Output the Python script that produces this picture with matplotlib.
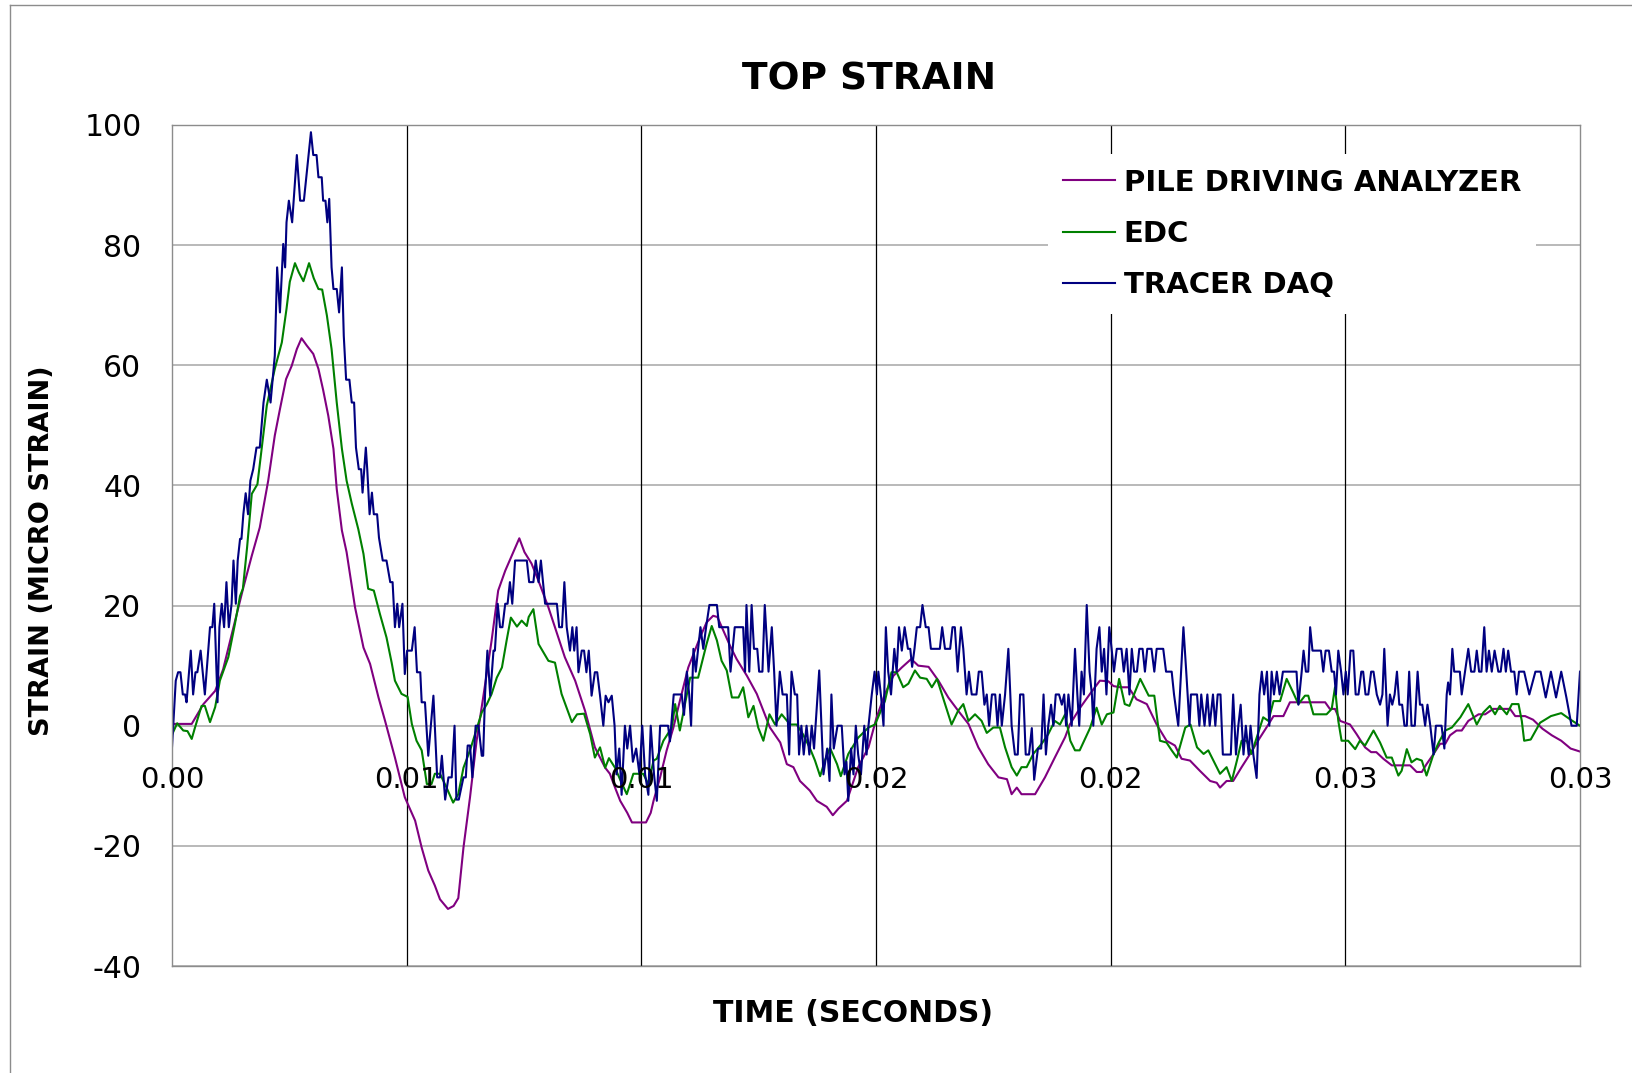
import numpy as np
import matplotlib
matplotlib.use("Agg")
import matplotlib.pyplot as plt
from matplotlib.lines import Line2D

plt.rcParams['axes.unicode_minus'] = False
plt.rcParams['font.family'] = ['DejaVu Sans']

# ---- data (time in ms, strain in micro strain) ----
pda_t = [0.00, 0.42, 0.67, 0.92, 1.09, 1.31, 1.52, 1.70, 1.87, 2.05, 2.19, 2.30, 2.43, 2.55, 2.66,
         2.76, 2.87, 3.01, 3.12, 3.22, 3.33, 3.44, 3.51, 3.62, 3.72, 3.90, 4.08, 4.22, 4.40, 4.54,
         4.75, 4.96, 5.18, 5.32, 5.46, 5.60, 5.71, 5.88, 6.00, 6.10, 6.21, 6.35, 6.49, 6.63, 6.81,
         6.95, 7.10, 7.24, 7.40, 7.51, 7.66, 7.81, 8.02, 8.16, 8.37, 8.59, 8.80, 9.01, 9.23, 9.33,
         9.44, 9.55, 9.70, 9.80, 10.10, 10.20, 10.26, 10.40, 10.54, 10.68, 10.82, 11.00, 11.14, 11.25,
         11.39, 11.53, 11.62, 11.75, 11.89, 12.03, 12.25, 12.46, 12.60, 12.74, 12.96, 13.10, 13.24,
         13.38, 13.59, 13.74, 13.95, 14.08, 14.20, 14.38, 14.62, 14.84, 15.01, 15.19, 15.37, 15.55,
         15.75, 15.90, 16.12, 16.33, 16.54, 16.75, 16.97, 17.18, 17.39, 17.61, 17.79, 17.89, 18.00,
         18.10, 18.39, 18.60, 18.81, 19.03, 19.13, 19.35, 19.56, 19.77, 19.95, 20.06, 20.20, 20.38,
         20.55, 20.77, 20.98, 21.19, 21.37, 21.51, 21.69, 21.90, 22.12, 22.26, 22.33, 22.47, 22.61,
         22.79, 22.97, 23.18, 23.36, 23.47, 23.68, 23.82, 24.14, 24.57, 24.67, 24.78, 24.89, 25.10,
         25.24, 25.42, 25.55, 25.66, 25.81, 25.99, 26.38, 26.52, 26.63, 26.73, 26.88, 27.02, 27.13,
         27.23, 27.37, 27.48, 27.62, 27.84, 27.98, 28.15, 28.51, 28.62, 28.83, 29.00, 29.20, 29.40,
         29.60, 29.80, 30.00]
pda_v = [0.3, 0.3, 3.6, 5.8, 9.4, 16.4, 23.0, 28.3, 33.0, 40.8, 48.3, 52.7, 57.7, 59.9, 62.7,
         64.5, 63.3, 61.9, 59.4, 55.9, 51.6, 46.1, 39.4, 32.5, 28.9, 19.7, 13.0, 10.3, 4.7, 0.8,
         -5.3, -11.9, -15.8, -20.3, -24.1, -26.6, -28.9, -30.5, -30.0, -28.7, -20.3, -11.9, -2.5, 4.7, 14.2,
         22.5, 25.8, 28.3, 31.2, 28.9, 27.0, 24.1, 19.7, 16.4, 11.4, 7.5, 2.5, -3.6, -7.0, -8.0,
         -10.3, -12.5, -14.5, -16.1, -16.1, -14.5, -12.5, -8.6, -4.1, -0.4, 4.1, 9.7, 12.5, 14.7,
         17.2, 18.3, 18.1, 15.8, 13.3, 11.1, 8.3, 5.3, 2.5, -0.3, -2.8, -6.4, -6.9,
         -9.2, -10.8, -12.5, -13.5, -14.9, -13.8, -12.5, -6.9, -3.6, 1.3, 5.3, 8.3, 9.7,
         11.1, 10.0, 9.8, 7.5, 4.7, 2.5, 0.3, -3.6, -6.4, -8.6, -8.9, -11.4, -10.3,
         -11.4, -11.4, -8.6, -5.3, -1.9, 0.2, 3.0, 5.3, 7.5, 7.4, 6.6, 6.4, 6.4,
         4.4, 3.6, 0.2, -2.5, -3.3, -5.5, -5.8, -7.5, -9.2, -9.5, -10.3, -9.2, -9.2,
         -6.9, -4.7, -2.0, 0.2, 1.6, 1.6, 3.9, 3.9, 3.9, 2.8, 2.8, 0.8, 0.2,
         -1.4, -3.6, -4.4, -4.4, -5.5, -6.6, -6.6, -7.7, -7.7, -6.4, -4.7, -3.0, -3.0,
         -1.6, -0.8, -0.8, 0.8, 1.9, 1.9, 2.8, 2.8, 1.6, 1.6, 1.0, -0.5, -1.6,
         -2.5, -3.8, -4.3]

edc_t = [0.00, 0.11, 0.24, 0.33, 0.42, 0.49, 0.63, 0.70, 0.81, 0.92, 1.02, 1.20, 1.34, 1.45, 1.51,
         1.60, 1.70, 1.82, 2.02, 2.19, 2.34, 2.44, 2.51, 2.62, 2.70, 2.80, 2.92, 3.02, 3.12, 3.20,
         3.30, 3.40, 3.51, 3.62, 3.72, 3.83, 3.97, 4.08, 4.18, 4.30, 4.43, 4.57, 4.68, 4.75, 4.89,
         5.02, 5.11, 5.21, 5.32, 5.43, 5.53, 5.60, 5.71, 5.85, 5.99, 6.10, 6.21, 6.35, 6.49, 6.60,
         6.71, 6.81, 6.92, 7.03, 7.13, 7.22, 7.35, 7.45, 7.56, 7.60, 7.70, 7.81, 8.02, 8.16, 8.30,
         8.52, 8.63, 8.78, 8.91, 9.01, 9.12, 9.23, 9.31, 9.44, 9.55, 9.69, 9.83, 10.04, 10.15, 10.26,
         10.33, 10.47, 10.65, 10.72, 10.82, 10.93, 11.04, 11.21, 11.39, 11.50, 11.61, 11.71, 11.82,
         11.93, 12.07, 12.17, 12.28, 12.39, 12.49, 12.60, 12.73, 12.85, 12.99, 13.17, 13.31, 13.45,
         13.59, 13.70, 13.81, 13.91, 14.02, 14.17, 14.25, 14.41, 14.62, 14.84, 14.98, 15.19, 15.33,
         15.44, 15.58, 15.69, 15.83, 15.94, 16.08, 16.19, 16.30, 16.47, 16.61, 16.75, 16.86, 16.97,
         17.11, 17.25, 17.36, 17.50, 17.64, 17.75, 17.89, 18.00, 18.10, 18.21, 18.35, 18.53, 18.67,
         18.81, 18.92, 19.03, 19.14, 19.24, 19.34, 19.56, 19.70, 19.81, 19.92, 20.06, 20.18, 20.30,
         20.40, 20.63, 20.81, 20.93, 21.05, 21.19, 21.30, 21.41, 21.59, 21.70, 21.84, 21.98, 22.08,
         22.19, 22.33, 22.47, 22.58, 22.69, 22.79, 22.90, 23.00, 23.11, 23.25, 23.36, 23.47, 23.61,
         23.75, 23.89, 24.00, 24.14, 24.21, 24.32, 24.60, 24.71, 24.78, 24.85, 24.92, 25.06, 25.21,
         25.31, 25.42, 25.60, 25.74, 25.88, 25.99, 26.13, 26.20, 26.31, 26.41, 26.52, 26.63, 26.73,
         26.88, 26.99, 27.13, 27.27, 27.45, 27.62, 27.80, 27.94, 28.08, 28.19, 28.29, 28.44, 28.55,
         28.69, 28.76, 28.81, 28.95, 29.15, 29.38, 29.60, 29.80, 30.00]
edc_v = [-1.5, 0.4, -0.8, -0.9, -2.2, -0.3, 3.3, 3.3, 0.6, 3.1, 7.5, 11.4, 16.9, 21.6, 22.8,
         29.7, 38.6, 40.2, 53.3, 59.4, 63.8, 69.4, 73.9, 77.0, 75.5, 74.0, 77.0, 74.5, 72.7, 72.6,
         68.3, 62.7, 53.8, 46.1, 40.8, 37.0, 32.7, 28.6, 22.8, 22.5, 18.6, 14.7, 10.5, 7.5, 5.3,
         4.8, 0.3, -2.5, -4.1, -9.7, -9.7, -8.0, -8.0, -10.3, -12.8, -11.4, -7.0, -4.1, -0.6, 2.2,
         3.6, 5.3, 8.0, 9.7, 14.2, 18.0, 16.5, 17.5, 16.6, 18.1, 19.4, 13.6, 10.8, 10.5, 5.3,
         0.6, 1.9, 2.0, -1.4, -5.3, -3.6, -7.0, -5.4, -7.0, -9.0, -11.4, -8.0, -8.0, -9.7, -5.8,
         -5.5, -2.5, -0.3, 3.6, -0.8, 3.6, 8.0, 8.0, 13.6, 16.6, 14.2, 10.8, 9.2,
         4.7, 4.7, 6.4, 1.4, 3.3, -0.3, -2.5, 1.9, 0.2, 1.9, 0.2, 0.2, -1.5,
         -3.7, -5.8, -8.4, -5.8, -3.7, -6.4, -8.4, -4.7, -2.0, -0.3, 0.2, 4.1, 8.9,
         8.9, 6.4, 7.0, 9.2, 8.0, 7.8, 6.4, 7.8, 3.6, 0.2, 2.5, 3.6, 0.8,
         1.9, 0.8, -1.2, -0.3, -0.3, -3.6, -6.9, -8.3, -6.9, -6.9, -4.7, -3.0, -1.4,
         0.8, 0.2, 1.9, -2.5, -4.1, -4.1, -0.4, 3.0, 0.2, 1.9, 2.2, 7.8, 3.6,
         3.3, 7.8, 5.0, 5.0, -2.5, -2.8, -4.1, -5.3, -0.3, 0.2, -3.6, -4.7, -4.1,
         -5.8, -8.0, -6.9, -9.2, -5.8, -2.5, -2.5, -4.7, -2.0, 1.4, 0.8, 4.1, 4.1,
         7.8, 5.5, 3.6, 5.0, 5.0, 1.9, 1.9, 2.8, 6.4, 0.8, -2.5, -2.5, -3.9,
         -2.5, -3.3, -0.8, -2.8, -5.3, -5.3, -8.3, -7.5, -3.9, -6.1, -5.5, -5.8, -8.3,
         -4.7, -2.8, -0.8, -0.3, 1.4, 3.6, 0.2, 2.2, 3.3, 1.9, 3.3, 1.9, 3.6,
         3.6, 0.8, -2.5, -2.3, 0.5, 1.6, 2.1, 1.0, 0.0]

daq_t = [0.00, 0.08, 0.13, 0.18, 0.23, 0.28, 0.31, 0.40, 0.45, 0.50, 0.54, 0.61, 0.70, 0.81, 0.86,
         0.90, 0.97, 1.01, 1.06, 1.11, 1.16, 1.21, 1.27, 1.31, 1.36, 1.40, 1.45, 1.48, 1.52, 1.57,
         1.62, 1.67, 1.73, 1.80, 1.87, 1.95, 2.02, 2.10, 2.19, 2.24, 2.30, 2.37, 2.41, 2.44, 2.49,
         2.56, 2.66, 2.73, 2.81, 2.96, 3.01, 3.08, 3.12, 3.19, 3.22, 3.27, 3.31, 3.35, 3.40, 3.44,
         3.51, 3.56, 3.62, 3.66, 3.71, 3.78, 3.83, 3.88, 3.92, 3.98, 4.03, 4.06, 4.13, 4.16, 4.21,
         4.26, 4.30, 4.37, 4.41, 4.49, 4.57, 4.65, 4.70, 4.75, 4.80, 4.84, 4.91, 4.96, 5.01, 5.11,
         5.17, 5.22, 5.29, 5.32, 5.39, 5.46, 5.57, 5.65, 5.71, 5.75, 5.82, 5.89, 5.96, 6.02, 6.06,
         6.11, 6.21, 6.26, 6.30, 6.35, 6.40, 6.47, 6.53, 6.60, 6.63, 6.67, 6.72, 6.78, 6.85, 6.88,
         6.94, 6.99, 7.04, 7.10, 7.15, 7.20, 7.25, 7.31, 7.56, 7.61, 7.70, 7.75, 7.81, 7.86, 7.95,
         8.20, 8.25, 8.31, 8.36, 8.41, 8.48, 8.53, 8.57, 8.62, 8.66, 8.73, 8.78, 8.83, 8.88, 8.94,
         9.01, 9.06, 9.12, 9.19, 9.24, 9.30, 9.37, 9.43, 9.47, 9.53, 9.58, 9.65, 9.70, 9.76, 9.82,
         9.89, 9.96, 10.02, 10.08, 10.15, 10.20, 10.27, 10.33, 10.40, 10.57, 10.61, 10.69, 10.86,
         10.91, 10.97, 11.02, 11.06, 11.11, 11.16, 11.21, 11.26, 11.32, 11.38, 11.45, 11.61, 11.66,
         11.85, 11.90, 11.99, 12.17, 12.21, 12.24, 12.30, 12.35, 12.40, 12.47, 12.51, 12.58, 12.63,
         12.71, 12.78, 12.83, 12.88, 12.95, 13.01, 13.10, 13.15, 13.20, 13.27, 13.32, 13.36, 13.41,
         13.46, 13.52, 13.58, 13.63, 13.68, 13.79, 13.88, 13.96, 14.01, 14.05, 14.10, 14.18, 14.27,
         14.33, 14.37, 14.41, 14.47, 14.52, 14.57, 14.62, 14.68, 14.75, 14.80, 14.84, 14.91, 14.97,
         15.02, 15.05, 15.11, 15.16, 15.21, 15.26, 15.32, 15.39, 15.44, 15.49, 15.55, 15.61, 15.68,
         15.73, 15.77, 15.82, 15.87, 15.94, 15.99, 16.06, 16.12, 16.17, 16.36, 16.41, 16.47, 16.58,
         16.63, 16.68, 16.74, 16.81, 16.86, 16.93, 16.98, 17.04, 17.14, 17.19, 17.25, 17.31, 17.36,
         17.41, 17.47, 17.54, 17.59, 17.64, 17.68, 17.75, 17.82, 17.89, 17.96, 18.02, 18.07, 18.14,
         18.19, 18.26, 18.32, 18.37, 18.45, 18.52, 18.57, 18.62, 18.67, 18.73, 18.78, 18.83, 18.90,
         18.96, 19.01, 19.05, 19.10, 19.17, 19.24, 19.29, 19.33, 19.38, 19.43, 19.49, 19.55, 19.60,
         19.63, 19.70, 19.76, 19.81, 19.86, 19.91, 19.97, 20.02, 20.07, 20.13, 20.23, 20.28, 20.34,
         20.40, 20.45, 20.50, 20.56, 20.61, 20.68, 20.73, 20.78, 20.87, 20.93, 20.98, 21.12, 21.18,
         21.30, 21.35, 21.44, 21.55, 21.61, 21.68, 21.71, 21.84, 21.89, 21.93, 22.00, 22.06, 22.11,
         22.18, 22.23, 22.28, 22.34, 22.39, 22.56, 22.61, 22.67, 22.72, 22.77, 22.83, 22.88, 22.94,
         22.98, 23.04, 23.11, 23.17, 23.22, 23.27, 23.33, 23.38, 23.43, 23.48, 23.54, 23.60, 23.67,
         23.96, 24.00, 24.07, 24.11, 24.16, 24.21, 24.25, 24.30, 24.48, 24.53, 24.58, 24.65, 24.71,
         24.76, 24.80, 24.85, 24.91, 24.96, 25.01, 25.05, 25.11, 25.17, 25.22, 25.28, 25.34, 25.38,
         25.43, 25.49, 25.55, 25.60, 25.67, 25.74, 25.79, 25.83, 25.90, 25.95, 26.00, 26.05, 26.10,
         26.15, 26.21, 26.26, 26.31, 26.36, 26.41, 26.48, 26.54, 26.59, 26.64, 26.70, 26.75, 26.81,
         26.88, 26.93, 27.05, 27.11, 27.16, 27.19, 27.23, 27.28, 27.32, 27.44, 27.48, 27.55, 27.62,
         27.68, 27.75, 27.80, 27.85, 27.90, 27.96, 28.01, 28.06, 28.12, 28.18, 28.26, 28.31, 28.37,
         28.42, 28.47, 28.53, 28.60, 28.65, 28.70, 28.81, 28.92, 29.05, 29.16, 29.27, 29.38, 29.49,
         29.60, 29.71, 29.82, 29.93, 30.00]
daq_v = [-3.6, 7.5, 8.9, 8.9, 5.2, 5.2, 3.9, 12.5, 5.2, 8.9, 8.9, 12.5, 5.2, 16.4, 16.4,
         20.3, 3.9, 16.4, 20.3, 16.4, 23.9, 16.4, 20.3, 27.5, 20.3, 27.5, 31.1, 31.1, 35.2, 38.7,
         35.2, 40.8, 42.7, 46.3, 46.3, 53.8, 57.6, 53.8, 61.6, 76.3, 68.8, 80.2, 76.3, 83.8, 87.4,
         83.8, 95.0, 87.4, 87.4, 98.8, 95.0, 95.0, 91.3, 91.3, 87.4, 87.4, 83.8, 87.7, 76.3, 72.7,
         72.7, 68.8, 76.3, 64.9, 57.6, 57.6, 53.8, 53.8, 46.3, 42.7, 42.7, 38.8, 46.3, 42.7, 35.2,
         38.8, 35.2, 35.2, 31.3, 27.5, 27.5, 23.9, 23.9, 16.4, 20.3, 16.4, 20.3, 8.6, 12.5, 12.5,
         16.4, 8.9, 8.9, 3.9, 3.9, -5.0, 5.0, -8.6, -8.6, -5.0, -12.3, -8.6, -8.6, 0.0, -12.3,
         -12.3, -8.6, -8.6, -3.3, -3.3, -8.6, 0.0, 0.0, -5.0, -5.0, 5.2, 12.5, 5.0, 12.5, 12.5,
         20.3, 16.4, 16.4, 20.3, 20.3, 23.9, 20.3, 27.5, 27.5, 23.9, 23.9, 27.5, 23.9, 27.5, 20.3,
         20.3, 16.4, 16.4, 23.9, 16.4, 12.5, 16.4, 12.5, 16.4, 8.9, 12.5, 12.5, 8.9, 12.5, 5.0,
         8.9, 8.9, 5.0, 0.0, 5.0, 3.9, 5.0, 0.0, -8.1, -3.8, -11.5, 0.0, -3.8, 0.0, -6.0,
         -3.8, -8.1, 0.0, -8.1, -11.5, 0.0, -8.1, -12.5, 0.0, 0.0, -2.6, 5.2, 5.2,
         1.8, 9.0, 5.2, 0.0, 12.8, 9.0, 12.8, 16.4, 12.8, 16.4, 20.1, 20.1, 16.4,
         16.4, 9.0, 16.4, 16.4, 9.0, 20.1, 9.0, 20.1, 12.8, 12.8, 9.0, 9.0, 20.1,
         9.0, 16.4, 9.0, 0.0, 9.0, 5.2, 5.2, -4.8, 9.0, 5.2, 5.2, -4.8, 0.0,
         -4.8, 0.0, -4.8, 0.0, -3.8, 9.2, -8.1, -3.8, -9.2, 5.2, -3.8, 0.0, 0.0,
         -8.1, -6.0, -12.5, -3.8, -8.1, 0.0, -4.8, -8.1, 0.0, -4.8, 0.0, 5.2, 9.0,
         5.2, 9.0, 4.7, 0.0, 16.4, 9.0, 5.2, 12.8, 9.0, 16.4, 12.5, 16.4, 12.8,
         12.8, 9.8, 12.8, 16.4, 16.4, 20.1, 16.4, 16.4, 12.8, 12.8, 16.4, 12.8, 12.8,
         16.4, 16.4, 9.0, 16.4, 12.8, 5.2, 9.0, 5.2, 5.2, 9.0, 9.0, 3.5, 5.2,
         0.0, 5.2, 5.2, 0.0, 5.2, 0.0, 5.2, 12.8, 0.0, -4.8, -4.8, 5.2, 5.2,
         -4.8, -4.8, -0.4, -9.0, -3.8, -3.8, 5.2, -4.8, 0.0, 3.5, 0.0, 5.2, 5.2,
         3.5, 5.2, 0.0, 5.2, 0.0, 12.8, 5.2, 0.0, 9.0, 5.2, 20.1, 9.0, 5.2,
         0.0, 12.8, 16.4, 9.0, 12.8, 5.2, 16.4, 12.8, 9.0, 12.8, 12.8, 9.0, 12.8,
         5.2, 12.8, 9.0, 9.0, 12.8, 12.8, 9.0, 12.8, 12.8, 9.0, 12.8, 12.8, 9.0,
         9.0, 5.2, 0.0, 16.4, 9.0, 0.0, 5.2, 5.2, 0.0, 5.2, 0.0, 5.2, 0.0,
         5.2, 0.0, 5.2, 5.2, -4.8, -4.8, 5.2, -4.8, 0.0, 3.5, -4.8, 0.0, -4.8,
         0.0, -4.8, -8.7, 5.2, 9.0, 5.2, 9.0, 0.0, 9.0, 5.2, 9.0, 5.2, 9.0,
         9.0, 3.5, 9.0, 12.5, 9.0, 9.0, 16.4, 12.5, 12.5, 9.0, 12.5, 12.5, 9.0,
         9.0, 5.2, 12.5, 9.0, 5.2, 9.0, 5.2, 12.5, 12.5, 5.2, 5.2, 9.0, 9.0,
         5.2, 5.2, 9.0, 9.0, 5.2, 3.5, 5.2, 12.8, 0.0, 5.2, 3.5, 5.2, 9.0,
         3.5, 3.5, 0.0, 0.0, 9.0, 0.0, 0.0, 9.0, 3.5, 3.5, 0.0, 3.5, 0.0,
         -4.8, 0.0, 0.0, -3.8, 5.2, 7.2, 5.2, 12.8, 9.0, 9.0, 5.2, 9.0, 12.8,
         9.0, 9.0, 12.5, 9.0, 9.0, 16.4, 9.0, 12.5, 9.0, 12.5, 9.0, 9.0, 12.8,
         9.0, 12.5, 9.0, 9.0, 5.2, 9.0, 9.0, 5.2, 9.0, 9.0, 4.7, 9.0, 4.7,
         9.0, 4.7, 0.0, 0.0, 9.0]

series_names = ['PILE DRIVING ANALYZER', 'EDC', 'TRACER DAQ']
series_colors = ['#800080', '#008000', '#000080']

xticks = [0.0, 0.005, 0.010, 0.015, 0.020, 0.025, 0.030]
xtick_labels = ['0.00', '0.01', '0.01', '0.02', '0.02', '0.03', '0.03']
yticks = [-40, -20, 0, 20, 40, 60, 80, 100]

W, H = 1632, 1073
fig = plt.figure(figsize=(W / 100, H / 100), dpi=100)
# chart-area border: only the top and left edges fall inside the image
fig.lines.append(Line2D([10 / W, 1.0], [1 - 5 / H, 1 - 5 / H], transform=fig.transFigure,
                        color='#8c8c8c', linewidth=1.0))
fig.lines.append(Line2D([10 / W, 10 / W], [0.0, 1 - 5 / H], transform=fig.transFigure,
                        color='#8c8c8c', linewidth=1.0))

ax = fig.add_axes([172 / W, 1 - 966 / H, 1408 / W, 841 / H])

# grid: grey horizontal, black vertical
for y in yticks:
    ax.axhline(y, color='#a6a6a6', linewidth=1.1, zorder=0)
for x in xticks[1:-1]:
    ax.axvline(x, color='black', linewidth=0.9, zorder=0)

series = [(pda_t, pda_v), (edc_t, edc_v), (daq_t, daq_v)]
for (t, v), name, c in zip(series, series_names, series_colors):
    ax.plot(np.array(t) / 1000.0, v, color=c, linewidth=1.5, label=name, zorder=2)

ax.set_xlim(0, 0.03)
ax.set_ylim(-40, 100)
ax.set_yticks(yticks)
ax.set_yticklabels([str(y) for y in yticks])
ax.tick_params(axis='y', length=0, pad=22, labelsize=21.5)
ax.set_xticks([])
for s in ax.spines.values():
    s.set_color('#8c8c8c')
    s.set_linewidth(1.0)

# x tick labels sit just below the zero line
for x, lab in zip(xticks, xtick_labels):
    ax.annotate(lab, xy=(x, 0), xytext=(0, -29), textcoords='offset points',
                ha='center', va='top', fontsize=21, zorder=3)

leg = ax.legend(loc='upper left', bbox_to_anchor=(1048 / W, 1 - 154 / H),
                bbox_transform=fig.transFigure, frameon=True, fancybox=False,
                framealpha=1.0, edgecolor='none', facecolor='white',
                prop={'weight': 'bold', 'size': 21}, handlelength=1.8,
                handletextpad=0.3, labelspacing=0.8, borderpad=0.5, borderaxespad=0)
leg.set_zorder(5)

fig.text(869 / W, 1 - 80 / H, 'TOP STRAIN', ha='center', va='center',
         fontsize=27, fontweight='bold')
fig.text(853 / W, 1 - 1014 / H, 'TIME (SECONDS)', ha='center', va='center',
         fontsize=21.5, fontweight='bold')
fig.text(42 / W, 1 - 551 / H, 'STRAIN (MICRO STRAIN)', ha='center', va='center',
         rotation=90, fontsize=19.5, fontweight='bold')

fig.savefig('out.png', dpi=100)
